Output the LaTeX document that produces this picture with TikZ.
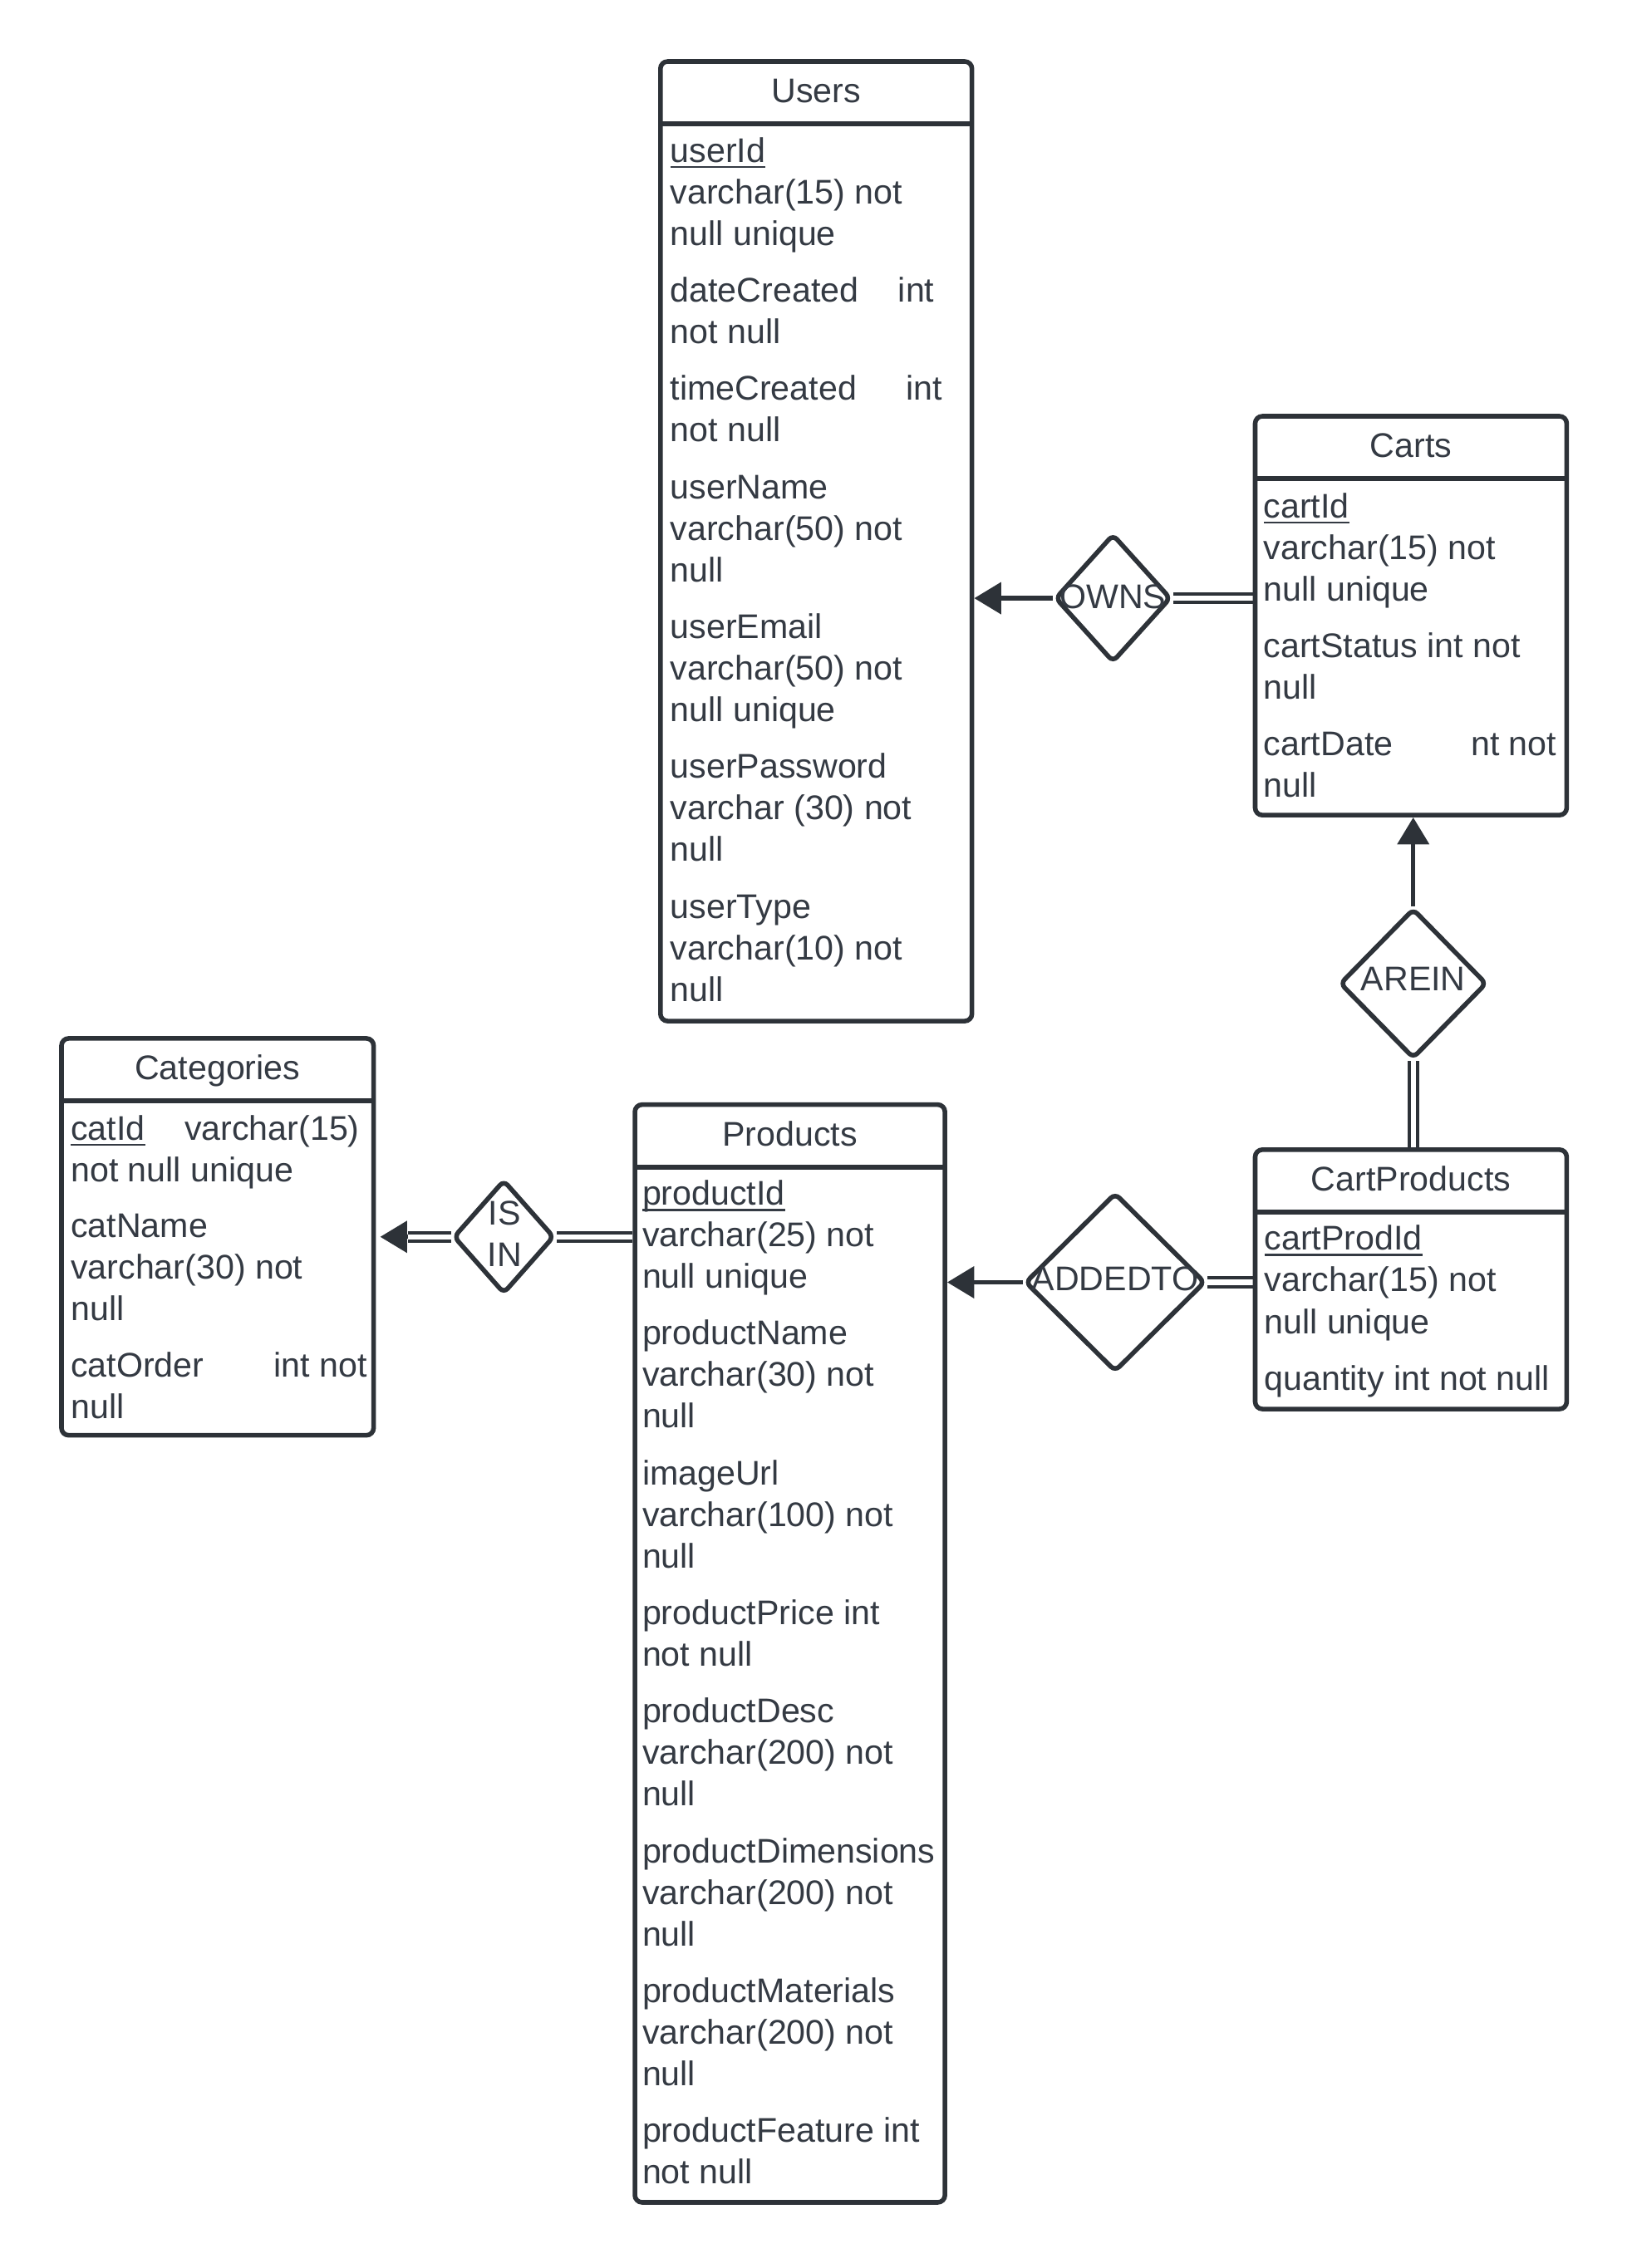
\documentclass[tikz,border=0pt]{standalone}
\usepackage{fontspec}
\setmainfont{Liberation Sans}
\usetikzlibrary{arrows.meta,shapes.geometric,calc}
\definecolor{txt}{RGB}{52,58,67}
\definecolor{ln}{RGB}{45,50,56}
\pgfdeclarelayer{bottom}
\pgfdeclarelayer{background}
\pgfsetlayers{bottom,background,main}
\newcommand\fs{\fontsize{11.85pt}{14.35pt}\selectfont}
\newcommand\ul[1]{\setbox0\hbox{#1}\rlap{\rule[-2.1pt]{\wd0}{0.8pt}}\box0}
\newcommand\mkentity[6]{%
  \node[entity, minimum width={(#4-#2)*0.5pt}, minimum height={(#5-#3)*0.5pt}] (#1) at ({(#2+#4)/2},{(#3+#5)/2}) {};
  \draw[hdr] (#2,{#3+43.3}) -- (#4,{#3+43.3});
  \node[ttl] (#1-title) at ({(#2+#4)/2},{#3+28.5}) {#6};}
\newcommand\flds[4]{\foreach \fl [count=\i] in {#4}{\node[fld] (#1-\i) at (#2,{#3+9.3+(\i-1)*28.8}) {\fl};}}
\begin{document}
\begin{tikzpicture}[x=0.5pt,y=-0.5pt,
  entity/.style={draw=ln, line width=1.6pt, rounded corners=2.5pt, fill=white, inner sep=0pt},
  hdr/.style={draw=ln, line width=1.6pt},
  ttl/.style={anchor=base, inner sep=0pt, text=txt, font=\fs},
  fld/.style={anchor=base west, inner sep=0pt, text=txt, font=\fs},
  rel/.style={draw=ln, line width=1.6pt, diamond, fill=white, inner sep=0pt, rounded corners=2pt},
  rlbl/.style={anchor=base, inner sep=0pt, text=txt, font=\fs},
  conn/.style={draw=ln, line width=1.5pt},
  tip/.style={-{Triangle[length=9.3pt,width=10.8pt]}},
  dbl/.style={draw=ln, line width=1.15pt, double=white, double distance=1.75pt}]
\begin{pgfonlayer}{bottom}
\fill[white] (0,0) rectangle (1130,1571.5);
\end{pgfonlayer}
\useasboundingbox (0,0) rectangle (1130,1571.5);

% entities
\mkentity{users}{457.5}{42.6}{673.3}{707.5}{Users}
\mkentity{carts}{869.5}{288.4}{1085.3}{564.8}{Carts}
\mkentity{cat}{42.6}{719.5}{258.8}{994.5}{Categories}
\mkentity{prod}{439.8}{765.4}{654.6}{1526}{Products}
\mkentity{cp}{869.5}{796.6}{1085.3}{976.3}{CartProducts}

% Users fields
\flds{users-a}{464}{103}{{\ul{userId}},varchar(15) not,null unique}
\flds{users-b}{464}{199.9}{dateCreated,not null}
\node[fld] (users-b-x) at (621.8,209.2) {int};
\flds{users-c}{464}{268}{timeCreated,not null}
\node[fld] (users-c-x) at (627.3,277.3) {int};
\flds{users-d}{464}{336.1}{userName,varchar(50) not,null}
\flds{users-e}{464}{433}{userEmail,varchar(50) not,null unique}
\flds{users-f}{464}{529.9}{userPassword,varchar (30) not,null}
\flds{users-g}{464}{626.8}{userType,varchar(10) not,null}

% Carts fields
\flds{carts-a}{875}{349.4}{{\ul{cartId}},varchar(15) not,null unique}
\flds{carts-b}{875}{446.3}{cartStatus int not,null}
\flds{carts-c}{875}{514.4}{cartDate,null}
\node[fld] (carts-c-x) at (1018.6,523.7) {nt not};

% Categories fields
\flds{cat-a}{48.7}{780.5}{{\ul{catId}},not null unique}
\node[fld] (cat-a-x) at (127.5,789.8) {varchar(15)};
\flds{cat-b}{48.7}{848}{catName,varchar(30) not,null}
\flds{cat-c}{48.7}{944.9}{catOrder,null}
\node[fld] (cat-c-x) at (189.3,954.2) {int not};

% Products fields
\flds{prod-a}{444.6}{825.6}{{\ul{productId}},varchar(25) not,null unique}
\flds{prod-b}{444.6}{922.5}{productName,varchar(30) not,null}
\flds{prod-c}{444.6}{1019.4}{imageUrl,varchar(100) not,null}
\flds{prod-d}{444.6}{1116.3}{productPrice int,not null}
\flds{prod-e}{444.6}{1184.4}{productDesc,varchar(200) not,null}
\flds{prod-f}{444.6}{1281.3}{productDimensions,varchar(200) not,null}
\flds{prod-g}{444.6}{1378.2}{productMaterials,varchar(200) not,null}
\flds{prod-h}{444.6}{1475.1}{productFeature int,not null}

% CartProducts fields
\flds{cp-a}{875.5}{857}{{\ul{cartProdId}},varchar(15) not,null unique}
\flds{cp-b}{875.5}{953.9}{quantity int not null}

% relationships
\node[rel, minimum width=40.2pt, minimum height=44.5pt] (owns) at (771,414.5) {};
\node[rel, minimum width=51pt, minimum height=52pt] (arein) at (979,681.5) {};
\node[rel, minimum width=62.5pt, minimum height=62pt] (addedto) at (772.5,888.5) {};
\node[rel, minimum width=35pt, minimum height=39.5pt] (isin) at (349,857) {};
\node[rlbl] (owns-l) at (771,421.5) {OWNS};
\node[rlbl] (arein-l) at (979,686.5) {AREIN};
\node[rlbl] (addedto-l) at (772.5,894) {ADDEDTO};
\node[rlbl] (isin-l1) at (349.5,849) {IS};
\node[rlbl] (isin-l2) at (349.5,877.7) {IN};

% connectors
\begin{pgfonlayer}{background}
\draw[conn,tip] (owns.west) -- (owns.west -| users.east);
\draw[dbl] (owns.east) -- (owns.east -| carts.west);
\draw[conn,tip] (arein.north) -- (arein.north |- carts.south);
\draw[dbl] (arein.south) -- (arein.south |- cp.north);
\draw[conn,tip] (addedto.west) -- (addedto.west -| prod.east);
\draw[dbl] (addedto.east) -- (addedto.east -| cp.west);
\draw[dbl] (isin.east) -- (isin.east -| prod.west);
\coordinate (isintip) at ($(isin.west -| cat.east)+(3,0)$);
\draw[dbl] (isin.west) -- ($(isintip)+(19,0)$);
\draw[conn,tip] ($(isintip)+(19.5,0)$) -- (isintip);
\end{pgfonlayer}
\end{tikzpicture}
\end{document}
